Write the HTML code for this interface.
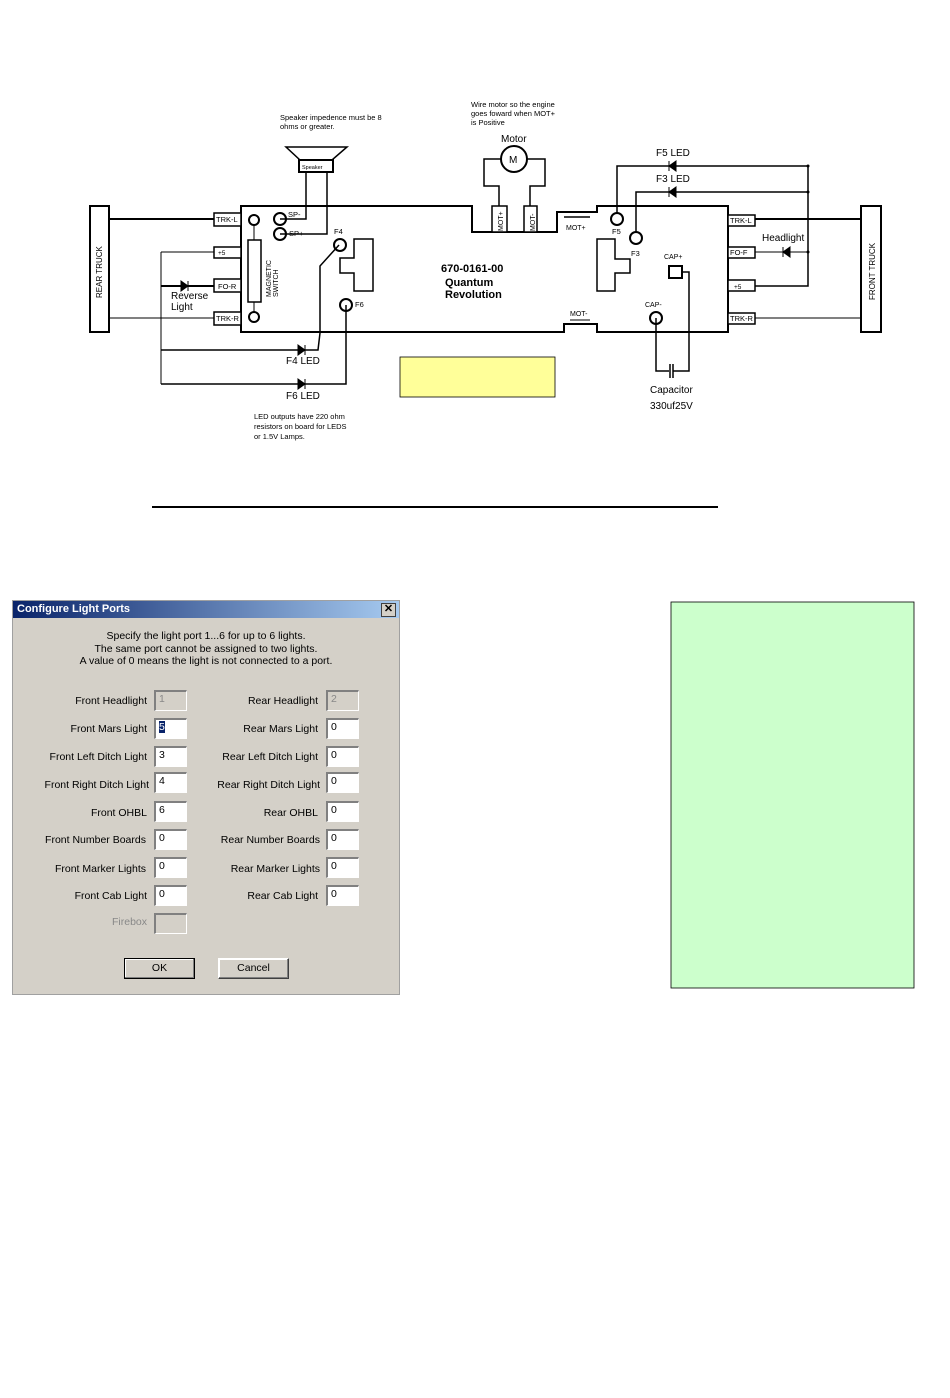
<!DOCTYPE html>
<html><head><meta charset="utf-8"><style>
body{margin:0;background:#fff;width:950px;height:1398px;position:relative;overflow:hidden;font-family:"Liberation Sans",sans-serif}
svg{position:absolute;left:0;top:0}
.dlg{position:absolute;left:12px;top:600px;width:386px;height:393px;background:#d4d0c8;border:1px solid #a0a0a0;font-family:"Liberation Sans",sans-serif;font-size:10.5px;color:#000}
.tb{height:17px;background:linear-gradient(90deg,#0a246a,#a6caf0);color:#fff;font-weight:bold;font-size:11px;line-height:17px;padding-left:4px}
.x{position:absolute;right:3px;top:2px;width:13px;height:12px;background:#d4d0c8;border:1px solid #404040;color:#000;font-size:11px;line-height:11px;text-align:center;font-weight:bold}
.msg{position:absolute;top:29px;left:0;width:386px;text-align:center;line-height:12.5px}
.l{position:absolute;text-align:right;width:200px;line-height:14px}
.i{position:absolute;width:33px;height:21px;background:#fff;border-top:2px solid #808080;border-left:2px solid #808080;border-right:1px solid #fff;border-bottom:1px solid #fff;box-sizing:border-box;padding-left:3px;line-height:14px}
.d{background:#d4d0c8;color:#888}
.b{position:absolute;top:357px;width:71px;height:21px;box-sizing:border-box;border:1px solid #000;box-shadow:inset -1px -1px #808080,inset 1px 1px #fff;text-align:center;line-height:19px}
</style></head><body>
<svg width="950" height="1398" viewBox="0 0 950 1398" font-family="Liberation Sans, sans-serif">
<g fill="none" stroke="#000">
<rect x="90" y="206" width="19" height="126" stroke-width="2"/>
<rect x="861" y="206" width="20" height="126" stroke-width="2"/>
<path d="M241 206 H472 V232 H557 V212 H597 V206 H728 V332 H597 V324 H564 V332 H241 Z" stroke-width="2"/>
<g stroke-width="1.5">
<rect x="214" y="213" width="27" height="13" fill="#fff"/>
<rect x="214" y="247" width="27" height="11" fill="#fff"/>
<rect x="214" y="279" width="27" height="13" fill="#fff"/>
<rect x="214" y="312" width="27" height="13" fill="#fff"/>
<rect x="728" y="215" width="27" height="11" fill="#fff"/>
<rect x="728" y="247" width="27" height="11" fill="#fff"/>
<rect x="728" y="280" width="27" height="11" fill="#fff"/>
<rect x="728" y="313" width="27" height="11" fill="#fff"/>
<rect x="492" y="206" width="15" height="26" fill="#fff"/>
<rect x="524" y="206" width="13" height="26" fill="#fff"/>
</g>
<path d="M109 219 H214 M755 219 H861" stroke-width="2"/>
<path d="M109 318 H214 M755 318 H861" stroke-width="1"/>
<path d="M161 252 V384 M161 252 H214" stroke-width="1"/>
<path d="M161 286 H214" stroke-width="2"/>
<path d="M161 350 H318 L320 333 V266 L339 245" stroke-width="1.5"/>
<path d="M161 384 H346 V305" stroke-width="1.5"/>
<circle cx="254" cy="220" r="5" stroke-width="2"/>
<circle cx="254" cy="317" r="5" stroke-width="2"/>
<rect x="248" y="240" width="13" height="62" stroke-width="1.5"/>
<path d="M254 225 V240 M254 302 V312"/>
<circle cx="280" cy="219" r="6" stroke-width="2"/>
<circle cx="280" cy="234" r="6" stroke-width="2"/>
<path d="M280 219 H306 V172 M280 234 H327 V172" stroke-width="1.5"/>
<path d="M286 147 H347 L332 160 H300 Z" stroke-width="1.5"/>
<rect x="299" y="160" width="34" height="12" stroke-width="2"/>
<circle cx="340" cy="245" r="6" stroke-width="2"/>
<circle cx="346" cy="305" r="6" stroke-width="2"/>
<path d="M373 239 H354 V258 H340 V273 H354 V291 H373 Z" stroke-width="1.5"/>
<circle cx="514" cy="159" r="13" stroke-width="2"/>
<path d="M501 159 H484 V186 H499 V206 M527 159 H545 V186 H530 V206" stroke-width="1.5"/>
<path d="M564 217 H590" stroke-width="1.5"/>
<path d="M570 320 H590" stroke-width="1"/>
<circle cx="617" cy="219" r="6" stroke-width="2"/>
<circle cx="636" cy="238" r="6" stroke-width="2"/>
<path d="M617 213 V166 H808 V286 H755" stroke-width="1.5"/>
<path d="M636 232 V192 H808" stroke-width="1.5"/>
<path d="M755 252 H808" stroke-width="1"/>
<path d="M597 239 H615 V259 H630 V273 H615 V291 H597 Z" stroke-width="1.5"/>
<rect x="669" y="266" width="13" height="12" stroke-width="2"/>
<circle cx="656" cy="318" r="6" stroke-width="2"/>
<path d="M682 272 H689 V371 H673 M656 318 V371 H669" stroke-width="1.5"/>
<path d="M670 364 V378 M673 364 V378" stroke-width="1.5"/>
</g>
<g fill="#000">
<circle cx="808" cy="192" r="1.5"/><circle cx="808" cy="252" r="1.5"/><circle cx="808" cy="166" r="1.5"/>
<path d="M181 281 L188 286 L181 291 Z M188 281 V291" stroke="#000"/>
<path d="M298 345 L305 350 L298 355 Z M305 345 V355" stroke="#000"/>
<path d="M298 379 L305 384 L298 389 Z M305 379 V389" stroke="#000"/>
<path d="M676 161 L669 166 L676 171 Z M669 161 V171" stroke="#000"/>
<path d="M676 187 L669 192 L676 197 Z M669 187 V197" stroke="#000"/>
<path d="M790 247 L783 252 L790 257 Z M783 247 V257" stroke="#000"/>
</g>
<g font-size="7.5">
<text x="216" y="222">TRK-L</text><text x="218" y="255" font-size="6.5">+5</text><text x="218" y="289">FO-R</text><text x="216" y="321">TRK-R</text>
<text x="730" y="223">TRK-L</text><text x="730" y="255">FO-F</text><text x="734" y="289" font-size="6.5">+5</text><text x="730" y="321">TRK-R</text>
<text x="288" y="217">SP-</text><text x="289" y="236">SP+</text>
<text x="334" y="234">F4</text><text x="355" y="307">F6</text>
<text x="612" y="234">F5</text><text x="631" y="256">F3</text>
<text x="664" y="259" font-size="7">CAP+</text><text x="645" y="307" font-size="7">CAP-</text>
<text x="566" y="230" font-size="7">MOT+</text><text x="570" y="316" font-size="7">MOT-</text>
<text x="302" y="169" font-size="5.5">Speaker</text>
<text x="0" y="0" transform="translate(503,231) rotate(-90)" font-size="7">MOT+</text>
<text x="0" y="0" transform="translate(535,231) rotate(-90)" font-size="7">MOT-</text>
<text x="0" y="0" transform="translate(271,297) rotate(-90)" font-size="7">MAGNETIC</text>
<text x="0" y="0" transform="translate(278,297) rotate(-90)" font-size="7">SWITCH</text>
<text x="0" y="0" transform="translate(102,298) rotate(-90)" font-size="8">REAR TRUCK</text>
<text x="0" y="0" transform="translate(875,300) rotate(-90)" font-size="8">FRONT TRUCK</text>
</g>
<g font-size="10">
<text x="171" y="299">Reverse</text><text x="171" y="310">Light</text>
<text x="286" y="364">F4 LED</text><text x="286" y="399">F6 LED</text>
<text x="656" y="156">F5 LED</text><text x="656" y="182">F3 LED</text>
<text x="762" y="241">Headlight</text>
<text x="501" y="142">Motor</text><text x="509" y="163">M</text>
<text x="650" y="393">Capacitor</text><text x="650" y="409">330uf25V</text>
</g>
<g font-size="7.5">
<text x="280" y="120">Speaker impedence must be 8</text><text x="280" y="129">ohms or greater.</text>
<text x="471" y="107">Wire motor so the engine</text><text x="471" y="116">goes foward when MOT+</text><text x="471" y="125">is Positive</text>
<text x="254" y="419">LED outputs have 220 ohm</text><text x="254" y="429">resistors on board for LEDS</text><text x="254" y="439">or 1.5V Lamps.</text>
</g>
<g font-size="11" font-weight="bold">
<text x="441" y="272">670-0161-00</text><text x="445" y="286">Quantum</text><text x="445" y="298">Revolution</text>
</g>
<rect x="400" y="357" width="155" height="40" fill="#ffff99" stroke="#000" stroke-width="0.8"/>
<line x1="152" y1="507" x2="718" y2="507" stroke="#000" stroke-width="2"/>
<rect x="671" y="602" width="243" height="386" fill="#ccffcc" stroke="#000" stroke-width="0.8"/>
</svg>
<div class="dlg">
<div class="tb">Configure Light Ports</div><div class="x">✕</div>
<div class="msg">Specify the light port 1...6 for up to 6 lights.<br>The same port cannot be assigned to two lights.<br>A value of 0 means the light is not connected to a port.</div>
<div class="l" style="left:-66px;top:93px">Front Headlight</div><div class="i d" style="left:141px;top:89px">1</div>
<div class="l" style="left:-66px;top:121px">Front Mars Light</div><div class="i" style="left:141px;top:117px"><span style="background:#0a246a;color:#fff">5</span></div>
<div class="l" style="left:-66px;top:149px">Front Left Ditch Light</div><div class="i" style="left:141px;top:145px">3</div>
<div class="l" style="left:-64px;top:177px">Front Right Ditch Light</div><div class="i" style="left:141px;top:171px">4</div>
<div class="l" style="left:-66px;top:205px">Front OHBL</div><div class="i" style="left:141px;top:200px">6</div>
<div class="l" style="left:-67px;top:232px">Front Number Boards</div><div class="i" style="left:141px;top:228px">0</div>
<div class="l" style="left:-67px;top:261px">Front Marker Lights</div><div class="i" style="left:141px;top:256px">0</div>
<div class="l" style="left:-66px;top:288px">Front Cab Light</div><div class="i" style="left:141px;top:284px">0</div>
<div class="l" style="left:-66px;top:314px;color:#888">Firebox</div><div class="i d" style="left:141px;top:312px"></div>
<div class="l" style="left:105px;top:93px">Rear Headlight</div><div class="i d" style="left:313px;top:89px">2</div>
<div class="l" style="left:105px;top:121px">Rear Mars Light</div><div class="i" style="left:313px;top:117px">0</div>
<div class="l" style="left:105px;top:149px">Rear Left Ditch Light</div><div class="i" style="left:313px;top:145px">0</div>
<div class="l" style="left:107px;top:177px">Rear Right Ditch Light</div><div class="i" style="left:313px;top:171px">0</div>
<div class="l" style="left:105px;top:205px">Rear OHBL</div><div class="i" style="left:313px;top:200px">0</div>
<div class="l" style="left:107px;top:232px">Rear Number Boards</div><div class="i" style="left:313px;top:228px">0</div>
<div class="l" style="left:107px;top:261px">Rear Marker Lights</div><div class="i" style="left:313px;top:256px">0</div>
<div class="l" style="left:105px;top:288px">Rear Cab Light</div><div class="i" style="left:313px;top:284px">0</div>
<div class="b" style="left:111px">OK</div><div class="b" style="left:205px;border-color:#fff #404040 #404040 #fff">Cancel</div>
</div>
</body></html>
